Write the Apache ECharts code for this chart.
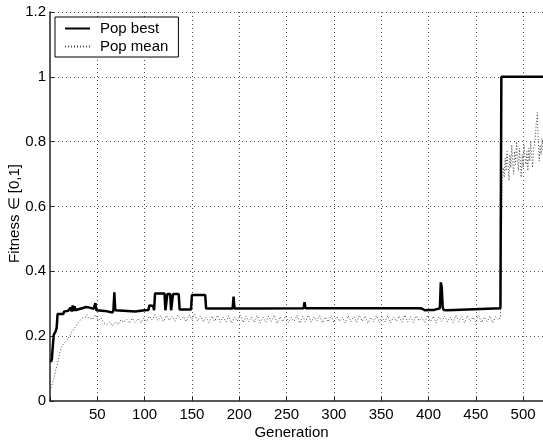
<!DOCTYPE html>
<html><head><meta charset="utf-8">
<script src="https://cdn.jsdelivr.net/npm/echarts@6/dist/echarts.min.js"></script>
<style>html,body{margin:0;padding:0;background:#fff}#c{width:543px;height:441px}</style>
</head><body><div id="c"></div>
<script>
// Pop best: [generation, fitness] at change points (piecewise constant with spikes)
var bestPoints = [[1,0.12],[2,0.13],[3,0.17],[4,0.205],[5,0.2],[6,0.215],[7,0.225],[8,0.268],[14,0.268],[15,0.276],[19,0.278],[21,0.275],[22,0.288],[23,0.276],[24,0.295],[25,0.278],[26,0.292],[27,0.28],[30,0.283],[35,0.287],[38,0.29],[42,0.288],[46,0.284],[47,0.285],[48,0.302],[49,0.28],[58,0.278],[60,0.272],[66,0.273],[67,0.28],[68,0.335],[69,0.28],[70,0.275],[90,0.276],[100,0.28],[104,0.281],[105,0.295],[109,0.293],[110,0.28],[111,0.332],[121,0.332],[122,0.28],[124,0.33],[127,0.33],[128,0.28],[130,0.33],[136,0.33],[137,0.282],[149,0.282],[150,0.327],[164,0.327],[165,0.285],[193,0.285],[194,0.322],[195,0.285],[218,0.285],[219,0.28],[220,0.285],[268,0.286],[269,0.305],[270,0.286],[390,0.286],[391,0.281],[393,0.285],[396,0.28],[398,0.286],[401,0.281],[403,0.286],[406,0.281],[408,0.286],[412,0.286],[413,0.366],[414,0.35],[415,0.29],[416,0.281],[418,0.286],[420,0.28],[421,0.286],[476,0.286],[477,1.0],[521,1.0]];

// Pop mean: generations 1..40 (every generation)
var meanEarly = [0.04,0.045,0.06,0.07,0.08,0.095,0.105,0.115,0.13,0.145,0.155,0.165,0.17,0.175,0.178,0.182,0.185,0.186,0.19,0.197,0.203,0.208,0.212,0.217,0.22,0.225,0.228,0.233,0.238,0.242,0.245,0.25,0.252,0.255,0.257,0.258,0.262,0.259,0.266,0.258];
// Pop mean: generations 42..474 (every 3rd generation)
var meanMid = [0.262,0.252,0.266,0.248,0.256,0.241,
0.236,0.244,0.232,0.243,0.236,0.25,0.242,
0.252,0.24,0.255,0.243,0.254,0.241,0.256,
0.246,0.262,0.25,0.266,0.248,0.263,0.245,
0.264,0.249,0.261,0.246,0.265,0.25,0.26,
0.245,0.266,0.251,0.268,0.247,0.262,0.244,
0.258,0.242,0.262,0.246,0.264,0.243,0.259,
0.244,0.263,0.24,0.26,0.247,0.265,0.242,
0.262,0.245,0.259,0.243,0.264,0.241,0.258,
0.243,0.262,0.246,0.265,0.24,0.26,0.245,
0.263,0.242,0.258,0.246,0.264,0.24,0.261,
0.244,0.265,0.243,0.26,0.247,0.263,0.241,
0.259,0.244,0.264,0.242,0.261,0.246,0.258,
0.241,0.263,0.245,0.26,0.243,0.265,0.246,
0.262,0.24,0.258,0.245,0.264,0.242,0.26,
0.244,0.263,0.241,0.259,0.246,0.262,0.243,
0.265,0.244,0.26,0.242,0.263,0.247,0.258,
0.243,0.264,0.245,0.261,0.241,0.26,0.246,
0.262,0.244,0.259,0.242,0.265,0.245,0.26,
0.241,0.263,0.246,0.258,0.243,0.264,0.242,
0.259,0.245,0.262,0.241,0.26,0.25];
// Pop mean: generations 475..521 (every generation)
var meanLate = [0.244,0.258,0.26,0.70,0.72,0.69,0.75,0.71,0.77,0.73,0.68,0.76,0.72,0.79,0.74,0.70,0.77,0.73,0.80,0.75,0.71,0.78,0.74,0.69,0.76,0.72,0.79,0.75,0.73,0.77,0.71,0.78,0.74,0.80,0.76,0.72,0.78,0.79,0.82,0.86,0.89,0.80,0.74,0.79,0.76,0.81,0.77];

var seriesNames = ['Pop best', 'Pop mean'];
var xName = 'Generation';
var yName = 'Fitness \u2208 [0,1]';

var meanData = [];
meanEarly.forEach(function(v, i){ meanData.push([1 + i, v]); });
meanMid.forEach(function(v, i){ meanData.push([42 + 3 * i, v]); });
meanLate.forEach(function(v, i){ meanData.push([475 + i, v]); });

var font = 'Liberation Sans, Arial, sans-serif';
var chart = echarts.init(document.getElementById('c'), null, {renderer: 'canvas'});
chart.setOption({
  animation: false,
  backgroundColor: '#fff',
  grid: {left: 50, top: 12, right: 0, bottom: 40, containLabel: false, outerBoundsMode: 'none'},
  legend: {
    left: 55, top: 17, orient: 'vertical',
    backgroundColor: '#fff', borderColor: '#000', borderWidth: 1, borderRadius: 0,
    padding: [4, 10, 3, 9], itemWidth: 25, itemHeight: 14, itemGap: 3,
    itemStyle: {opacity: 0},
    textStyle: {fontFamily: font, fontSize: 15, color: '#000', padding: [0, 0, 0, 5]},
    data: seriesNames
  },
  xAxis: {
    type: 'value', min: 0, max: 521, interval: 50,
    name: xName, nameLocation: 'middle', nameGap: 24, nameMoveOverlap: false,
    nameTextStyle: {fontFamily: font, fontSize: 15, color: '#000', padding: [0, 10, 0, 0]},
    axisLine: {show: true, onZero: false, lineStyle: {color: '#222', width: 1.5}},
    axisTick: {show: true, inside: true, length: 4, lineStyle: {color: '#222'}},
    axisLabel: {fontFamily: font, fontSize: 15, color: '#000', margin: 6,
      formatter: function(v){ return (v > 0 && v % 50 === 0) ? String(v) : ''; }},
    splitLine: {show: true, showMinLine: false, showMaxLine: false, lineStyle: {type: [1, 3], color: '#555', width: 1}}
  },
  yAxis: {
    type: 'value', min: 0, max: 1.2, interval: 0.2,
    name: yName, nameLocation: 'middle', nameGap: 28, nameMoveOverlap: false,
    nameTextStyle: {fontFamily: font, fontSize: 15, color: '#000', padding: [0, 14, 0, 0]},
    axisLine: {show: true, lineStyle: {color: '#222', width: 1.5}},
    axisTick: {show: true, inside: true, length: 4, lineStyle: {color: '#222'}},
    axisLabel: {fontFamily: font, fontSize: 15, color: '#000', margin: 4,
      formatter: function(v){ return String(+v.toFixed(1)); }},
    splitLine: {show: true, showMinLine: false, lineStyle: {type: [1, 3], color: '#555', width: 1}}
  },
  series: [
    {name: seriesNames[0], type: 'line', data: bestPoints, symbol: 'none', z: 3,
     lineStyle: {color: '#000', width: 2.5}, itemStyle: {color: '#000'}},
    {name: seriesNames[1], type: 'line', data: meanData, symbol: 'none', z: 2,
     lineStyle: {color: '#444', width: 1, type: [1, 2]}, itemStyle: {color: '#444'}}
  ]
});
</script></body></html>
